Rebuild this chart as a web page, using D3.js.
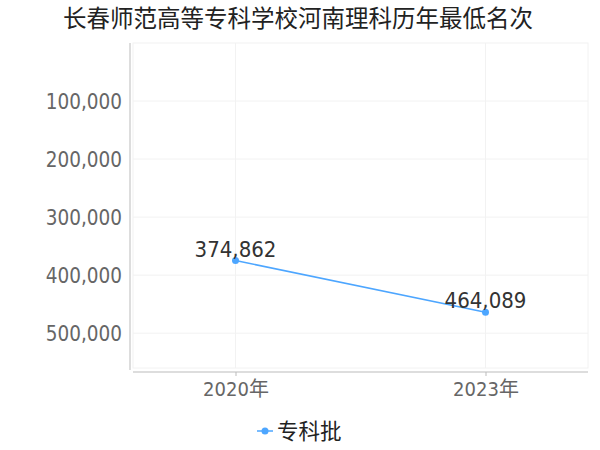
<!DOCTYPE html>
<html>
<head>
<meta charset="utf-8">
<script src="https://cdn.jsdelivr.net/npm/d3@7"></script>
<style>
  body { margin: 0; background: #fff; }
  svg { display: block; font-family: "DejaVu Sans", "Noto Sans CJK SC", sans-serif; }
  .num { font-family: "DejaVu Sans Condensed", "DejaVu Sans", "Noto Sans CJK SC", sans-serif; font-stretch: condensed; }
</style>
</head>
<body>
<div id="chart"></div>
<script>
// datos del gráfico
const years = ["2020年", "2023年"];
const minRank = [374862, 464089];
const seriesName = "专科批";
const yTicks = [100000, 200000, 300000, 400000, 500000];
const chartTitle = "长春师范高等专科学校河南理科历年最低名次";

const W = 600, H = 450;
const plot = { left: 133, right: 588, top: 43, bottom: 368 };
const lineColor = "#4da6ff";

const svg = d3.select("#chart").append("svg")
    .attr("width", W)
    .attr("height", H);

// escalas
const x = d3.scalePoint()
    .domain(years)
    .range([plot.left, plot.right])
    .padding(0.41);

// eje invertido: el mejor puesto arriba
const y = d3.scaleLinear()
    .domain([0, 560000])
    .range([plot.top, plot.bottom]);

// título
svg.append("text")
    .attr("x", 298)
    .attr("y", 27)
    .attr("text-anchor", "middle")
    .style("font-family", "'Noto Sans CJK SC', sans-serif")
    .style("font-size", "23.5px")
    .attr("fill", "#222")
    .text(chartTitle);

// borde del área de dibujo
svg.append("rect")
    .attr("x", plot.left)
    .attr("y", plot.top)
    .attr("width", plot.right - plot.left)
    .attr("height", plot.bottom - plot.top)
    .attr("fill", "none")
    .attr("stroke", "#f2f2f2");

// rejilla horizontal
svg.append("g")
    .selectAll("line")
    .data(yTicks)
    .join("line")
    .attr("x1", plot.left).attr("x2", plot.right)
    .attr("y1", d => y(d)).attr("y2", d => y(d))
    .attr("stroke", "#f2f2f2");

// rejilla vertical
svg.append("g")
    .selectAll("line")
    .data(years)
    .join("line")
    .attr("x1", d => x(d)).attr("x2", d => x(d))
    .attr("y1", plot.top).attr("y2", plot.bottom)
    .attr("stroke", "#f2f2f2");

// eje Y
const yAxis = svg.append("g")
    .attr("transform", `translate(${plot.left - 3},0)`)
    .call(d3.axisLeft(y).tickValues(yTicks).tickFormat(d3.format(",")).tickSize(0).tickPadding(8));
yAxis.select(".domain").attr("stroke", "#bbb").attr("d", `M0,${plot.top}V${plot.bottom + 2}`);
yAxis.selectAll("text")
    .attr("class", "num")
    .attr("fill", "#666")
    .attr("dy", "0.36em")
    .style("font-size", "20.5px");

// eje X
const xAxis = svg.append("g")
    .attr("transform", `translate(0,${plot.bottom + 4})`)
    .call(d3.axisBottom(x).tickSize(4).tickPadding(6));
xAxis.select(".domain").attr("stroke", "#bbb").attr("d", `M${plot.left},0H${plot.right}`);
xAxis.selectAll(".tick line").attr("stroke", "#bbb");
xAxis.selectAll("text")
    .attr("class", "num")
    .attr("fill", "#666")
    .style("font-size", "20px");

// serie
const pts = years.map((yr, i) => ({ yr, v: minRank[i] }));

svg.append("path")
    .datum(pts)
    .attr("fill", "none")
    .attr("stroke", lineColor)
    .attr("stroke-width", 1.5)
    .attr("d", d3.line().x(d => x(d.yr)).y(d => y(d.v)));

svg.append("g")
    .selectAll("circle")
    .data(pts)
    .join("circle")
    .attr("cx", d => x(d.yr))
    .attr("cy", d => y(d.v))
    .attr("r", 3.5)
    .attr("fill", lineColor);

svg.append("g")
    .selectAll("text")
    .data(pts)
    .join("text")
    .attr("class", "num")
    .attr("x", d => x(d.yr))
    .attr("y", d => y(d.v) - 4)
    .attr("text-anchor", "middle")
    .attr("fill", "#333")
    .style("font-size", "22px")
    .text(d => d3.format(",")(d.v));

// leyenda
const lg = svg.append("g").attr("transform", "translate(257,431)");
lg.append("line")
    .attr("x1", 0).attr("x2", 16)
    .attr("stroke", lineColor).attr("stroke-width", 1.5);
lg.append("circle").attr("cx", 8).attr("r", 3.5).attr("fill", lineColor);
lg.append("text")
    .attr("x", 20)
    .attr("y", 8)
    .attr("fill", "#222")
    .style("font-family", "'Noto Sans CJK SC', sans-serif")
    .style("font-size", "21.5px")
    .text(seriesName);
</script>
</body>
</html>
